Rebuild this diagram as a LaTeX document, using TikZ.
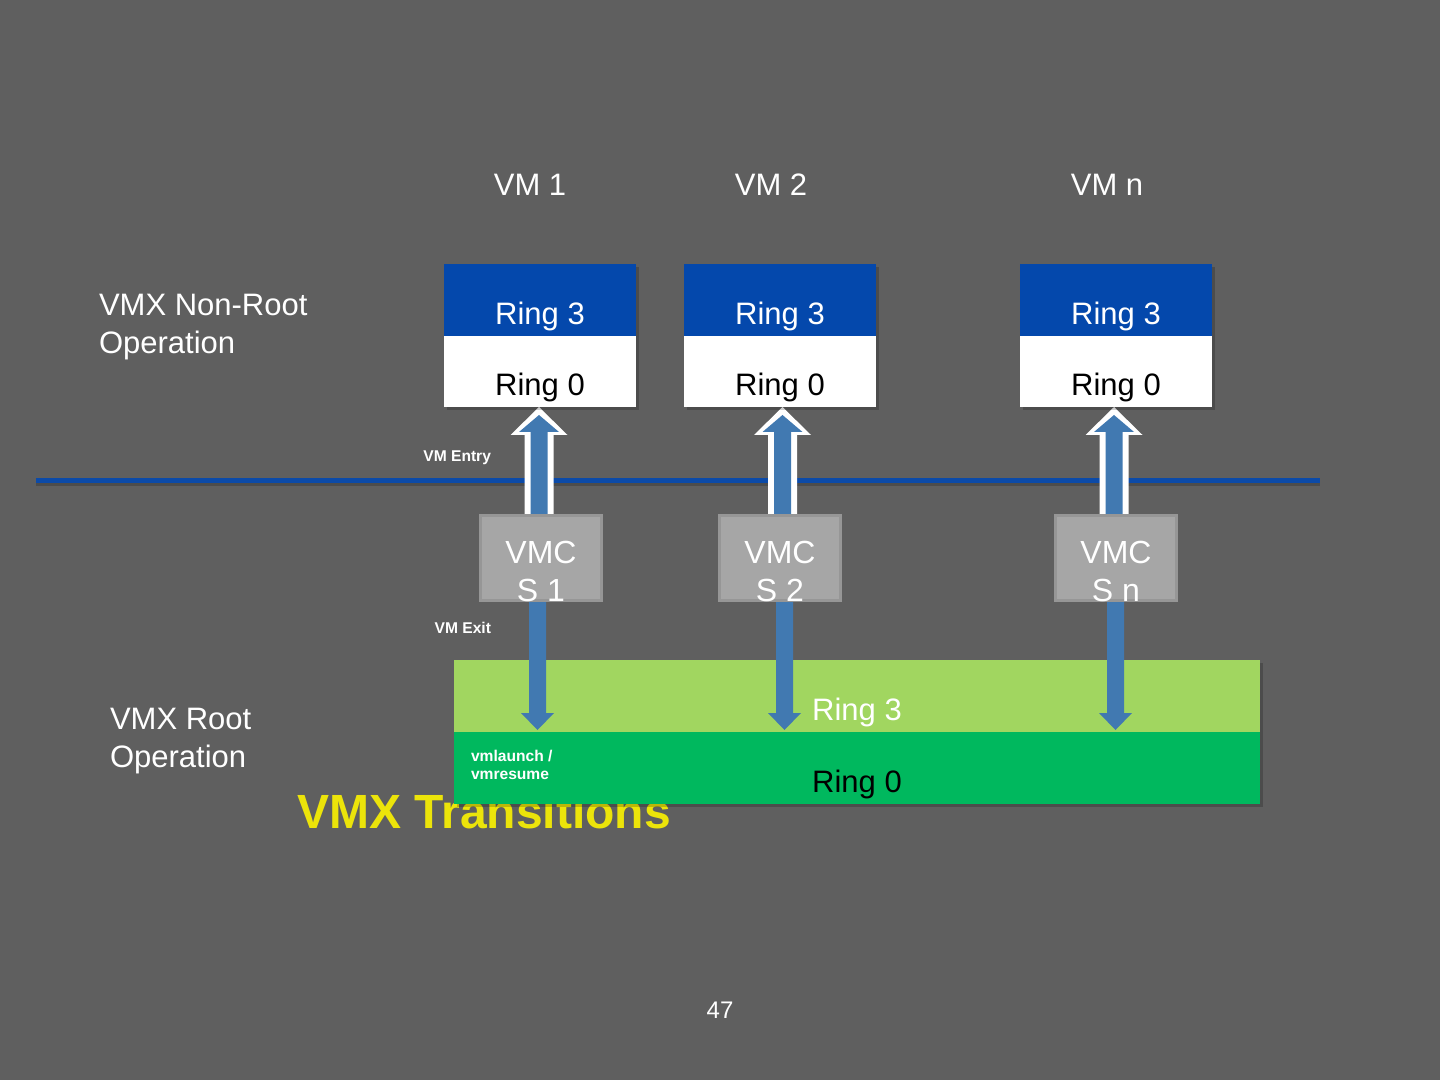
\documentclass[tikz,border=0pt]{standalone}
\usepackage{fontspec}
\setmainfont{Liberation Sans}
\definecolor{bg}{RGB}{95,95,95}
\definecolor{rblue}{RGB}{4,72,172}
\definecolor{ablue}{RGB}{65,121,177}
\definecolor{lgreen}{RGB}{161,214,96}
\definecolor{dgreen}{RGB}{0,184,94}
\definecolor{ttl}{RGB}{236,228,10}
\definecolor{lblue}{RGB}{11,74,168}
\definecolor{vmcsfill}{RGB}{166,166,166}
\definecolor{vmcsdraw}{RGB}{150,150,150}
\tikzset{
  lbl/.style={inner sep=0pt, outer sep=0pt, anchor=base, font=\fontsize{15.5}{18}\selectfont},
  wlbl/.style={lbl, text=white},
  blbl/.style={lbl, text=black},
  smalllbl/.style={inner sep=0pt, outer sep=0pt, font=\bfseries\fontsize{7.8}{9}\selectfont, text=white},
  shadowfill/.style={fill=black, opacity=0.2},
  exitarrow/.style={fill=ablue},
  entryout/.style={fill=white},
  entryin/.style={fill=ablue},
}
\newcommand{\myexit}[1]{%
  \fill[exitarrow] ({#1-8.5},600) -- ({#1+8.5},600) -- ({#1+8.5},713) -- ({#1+16.5},713) -- (#1,730) -- ({#1-16.5},713) -- ({#1-8.5},713) -- cycle;}
\newcommand{\myentry}[1]{%
  \fill[entryout] ({#1-14.5},516) -- ({#1-14.5},435) -- ({#1-28.5},435) -- (#1,407) -- ({#1+28.5},435) -- ({#1+14.5},435) -- ({#1+14.5},516) -- cycle;
  \fill[entryin] ({#1-8.5},516) -- ({#1-8.5},432) -- ({#1-20},432) -- (#1,415) -- ({#1+20},432) -- ({#1+8.5},432) -- ({#1+8.5},516) -- cycle;}
\begin{document}
\begin{tikzpicture}[x=0.5pt,y=-0.5pt]
\useasboundingbox (0,0) rectangle (1440,1080);
\fill[bg] (0,0) rectangle (1440,1080);

% separator line
\coordinate (lineL) at (36,480);
\coordinate (lineR) at (1320,480);
\draw[black, opacity=0.2, line width=2.5pt] (36,483.5) -- (1320,483.5);
\draw[lblue, line width=2.5pt] (lineL) -- (lineR);

% title (partly hidden by the root box)
\node[anchor=base west, inner sep=0pt, font=\bfseries\fontsize{24}{28}\selectfont, text=ttl] (title) at (297,828) {VMX Transitions};

% root operation rings
\fill[shadowfill] (457,663) rectangle (1263,807);
\fill[lgreen] (454,660) rectangle (1260,732);
\fill[dgreen] (454,732) rectangle (1260,804);
\node[wlbl] (rootr3t) at (857,720) {Ring 3};
\node[blbl] (rootr0t) at (857,792) {Ring 0};
\node[smalllbl, anchor=base west] (vml) at (471,761) {vmlaunch /};
\node[smalllbl, anchor=base west] (vmr) at (471,779) {vmresume};

% exit arrows
\myexit{537.5}
\myexit{784.5}
\myexit{1115.5}

% entry arrows
\myentry{539}
\myentry{782.5}
\myentry{1114}

% VM boxes
\foreach \n/\xl in {1/444, 2/684, n/1020}{
  \fill[shadowfill] (\xl+3,267) rectangle (\xl+195,410);
  \fill[rblue] (\xl,264) rectangle (\xl+192,336);
  \fill[white] (\xl,336) rectangle (\xl+192,407);
  \node[wlbl] (vm\n r3) at (\xl+96,325) {Ring 3};
  \node[blbl] (vm\n r0) at (\xl+96,396) {Ring 0};
}
\node[wlbl] (vm1t) at (530,196) {VM 1};
\node[wlbl] (vm2t) at (771,196) {VM 2};
\node[wlbl] (vmnt) at (1107,196) {VM n};

% VMCS boxes
\foreach \n/\xl in {1/479, 2/718, n/1054}{
  \draw[fill=vmcsfill, draw=vmcsdraw, line width=1.5pt] (\xl+1.5,515.5) rectangle (\xl+122.5,600.5);
  \node[wlbl, font=\fontsize{16}{18}\selectfont] (vmcs\n a) at (\xl+62,563) {VMC};
  \node[wlbl, font=\fontsize{16}{18}\selectfont] (vmcs\n b) at (\xl+62,601) {S \n};
}

% side labels
\node[wlbl, anchor=base west] (nr1) at (99,316) {VMX Non-Root};
\node[wlbl, anchor=base west] (nr2) at (99,354) {Operation};
\node[wlbl, anchor=base west] (ro1) at (110,729) {VMX Root};
\node[wlbl, anchor=base west] (ro2) at (110,767) {Operation};

\node[smalllbl, anchor=base east] (entry) at (491,461) {VM Entry};
\node[smalllbl, anchor=base east] (exit) at (491,633) {VM Exit};

\node[wlbl, font=\fontsize{12}{14}\selectfont] (page) at (720,1018) {47};
\end{tikzpicture}
\end{document}
